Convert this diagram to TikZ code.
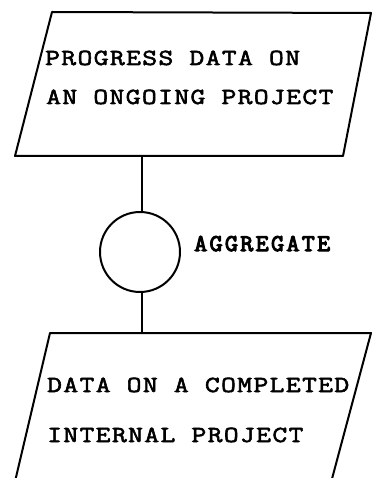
\documentclass[tikz,border=0pt]{standalone}
\usepackage{fontspec}
\newfontfamily\tw{Latin Modern Mono}[FakeStretch=1.25,FakeBold=2.5,LetterSpace=6]
\newfontfamily\twb{Latin Modern Mono}[FakeStretch=1.05,FakeBold=4.5,LetterSpace=10]
\begin{document}
\begin{tikzpicture}[x=1pt,y=-1pt,
  edge/.style={line width=2pt,line join=round,line cap=round},
  label/.style={anchor=base west,inner sep=0pt,font=\tw\fontsize{23}{23}\selectfont},
  opcircle/.style={circle,draw,line width=2pt,minimum size=80pt,inner sep=0pt}]
\useasboundingbox (0,0) rectangle (372,478);
\clip (0,0) rectangle (372,478);
% top parallelogram (input)
\draw[edge] (52,12) -- (371,13) -- (343,156) -- (15,156) -- cycle;
\coordinate (topout) at (142,156);
\node[label] (t1) at (45,65) {PROGRESS DATA ON};
\node[label] (t2) at (46,104) {AN ONGOING PROJECT};
% process circle
\node[opcircle] (agg) at (140,252) {};
\node[anchor=base west,inner sep=0pt,font=\twb\fontsize{24}{24}\selectfont] (aggl) at (194,251) {AGGREGATE};
% bottom parallelogram (output), cut by the frame
\draw[edge] (13,490) -- (50,333) -- (371,333) -- (329,490);
\coordinate (botin) at (142,333);
\node[label] (b1) at (47,392) {DATA ON A COMPLETED};
\node[label] (b2) at (47,442) {INTERNAL PROJECT};
% connectors
\draw[edge] (topout) -- (topout |- agg.north);
\draw[edge] (botin |- agg.south) -- (botin);
\end{tikzpicture}
\end{document}
